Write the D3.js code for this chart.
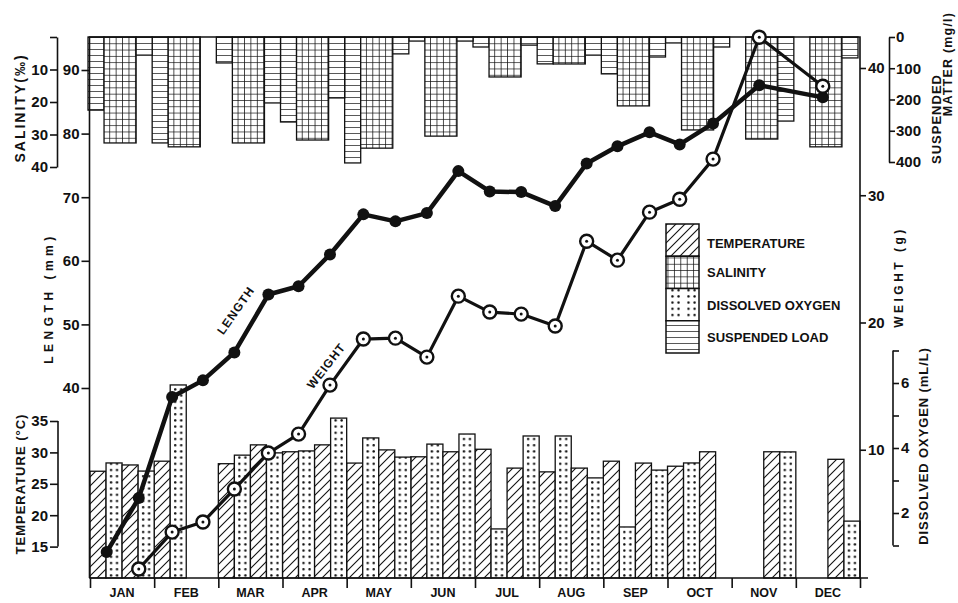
<!DOCTYPE html>
<html><head><meta charset="utf-8">
<script src="https://cdn.jsdelivr.net/npm/d3@7"></script>
<style>
body{margin:0;background:#fff}
svg{display:block}
text{font-family:"Liberation Sans",Arial,sans-serif;font-weight:bold;fill:#111}
</style>
</head><body>
<svg id="c" width="958" height="603"></svg>
<script>
// ---------- DATA ----------
const months = ["JAN","FEB","MAR","APR","MAY","JUN","JUL","AUG","SEP","OCT","NOV","DEC"];
// two sampling dates per month: first and second sample
const temp1 = [27.0, 28.6, 28.2, 30.1, 28.3, 29.3, 30.5, 26.9, 28.6, 27.8, null, null];
const oxy1  = [3.54, 5.94, 3.78, 3.91, 4.31, 4.12, 1.51, 4.37, 1.57, 3.54, null, null];
const temp2 = [28.0, null, 31.2, 31.2, 30.4, 30.1, 27.5, 27.5, 28.3, 30.1, 30.1, 28.9];
const oxy2  = [3.29, null, 3.85, 4.92, 3.72, 4.43, 4.37, 3.08, 3.32, null, 3.88, 1.75];
const susp1 = [234, 339, 83, 272, 403, 13, 32, 86, 118, 19, null, null];
const salinity = [32.6, 33.8, 32.6, 31.7, 34.2, 30.5, 12.3, 8.3, 21.2, 28.6, 31.4, 33.8];
const susp2 = [58, null, 211, 195, 54, 13, 26, 58, 64, 32, 269, 67];
// growth samples (time in months from 1 Jan)
const sampleTime = [0.26,0.76,1.28,1.76,2.25,2.78,3.25,3.74,4.26,4.76,5.25,5.74,6.23,6.72,7.25,7.74,8.22,8.72,9.19,9.71,10.43,11.42];
const lengthMM = [14.2,22.7,38.6,41.2,45.6,54.7,56.0,61.0,67.3,66.2,67.5,74.1,70.9,70.8,68.6,75.3,78.0,80.2,78.3,81.6,87.6,85.7];
const weightG  = [null,0.63,3.53,4.32,6.91,9.74,11.23,15.08,18.70,18.77,17.28,22.07,20.82,20.66,19.72,26.39,24.90,28.67,29.69,32.84,42.42,38.57];
// tick labels
const lengthTicks = [40,50,60,70,80,90];
const weightTicks = [10,20,30,40];
const tempTicks = [15,20,25,30,35];
const salTicks = [0,10,20,30,40];
const suspTicks = [0,100,200,300,400];
const oxyTicks = [1,2,3,4,5,6,7];
const oxyLabelled = [2,4,6];
const legendItems = [["TEMPERATURE","hatch"],["SALINITY","grid"],["DISSOLVED OXYGEN","dots"],["SUSPENDED LOAD","hlines"]];

// ---------- LAYOUT ----------
const L=89.5, R=860, T=37, B=578;
const svg = d3.select("#c");
svg.append("rect").attr("width",958).attr("height",603).attr("fill","#fff");

const x = d3.scaleLinear().domain([0,12]).range([90,860]);
const slotW = (x(1)-x(0))/4;
const yLen = d3.scaleLinear().domain([40,90]).range([388,70]);
const yW = d3.scaleLinear().domain([0,40]).range([577,68]);
const yT = d3.scaleLinear().domain([10,35]).range([578,421]);
const yO = d3.scaleLinear().domain([0,7]).range([578,350.5]);
const ySal = d3.scaleLinear().domain([0,40]).range([37,167]);
const ySus = d3.scaleLinear().domain([0,400]).range([37,162]);

const ink = "#111";
// ---------- PATTERNS ----------
const defs = svg.append("defs");
const ph = defs.append("pattern").attr("id","hatch").attr("patternUnits","userSpaceOnUse")
  .attr("width",9).attr("height",9);
ph.append("rect").attr("width",9).attr("height",9).attr("fill","#fff");
ph.append("path").attr("d","M-1,1 L1,-1 M0,9 L9,0 M8,10 L10,8").attr("stroke",ink).attr("stroke-width",1.1);

const pd = defs.append("pattern").attr("id","dots").attr("patternUnits","userSpaceOnUse")
  .attr("x",x(0)).attr("y",2).attr("width",slotW).attr("height",6.2);
pd.append("rect").attr("width",slotW).attr("height",6.2).attr("fill","#fff");
pd.append("circle").attr("cx",5).attr("cy",3).attr("r",1.2).attr("fill",ink);
pd.append("circle").attr("cx",11).attr("cy",3).attr("r",1.2).attr("fill",ink);

const gs = slotW*2/5;
const pg = defs.append("pattern").attr("id","grid").attr("patternUnits","userSpaceOnUse")
  .attr("x",x(0)).attr("y",T).attr("width",gs).attr("height",6.3);
pg.append("rect").attr("width",gs).attr("height",6.3).attr("fill","#fff");
pg.append("path").attr("d",`M0,0 V6.3 M0,0 H${gs}`).attr("stroke",ink).attr("stroke-width",1.5);

const pl = defs.append("pattern").attr("id","hlines").attr("patternUnits","userSpaceOnUse")
  .attr("x",0).attr("y",T).attr("width",10).attr("height",6);
pl.append("rect").attr("width",10).attr("height",6).attr("fill","#fff");
pl.append("path").attr("d","M0,0 H10").attr("stroke",ink).attr("stroke-width",1.4);

// ---------- BARS ----------
const bars = svg.append("g").attr("stroke",ink).attr("stroke-width",1.3);
function bottomBars(vals, slot, scale, pat){
  bars.selectAll(null).data(vals.map((v,i)=>({v,i})).filter(d=>d.v!=null)).join("rect")
    .attr("x",d=>x(d.i)+slot*slotW).attr("width",slotW)
    .attr("y",d=>scale(d.v)).attr("height",d=>B-scale(d.v))
    .attr("fill",`url(#${pat})`);
}
bottomBars(temp1,0,yT,"hatch");
bottomBars(oxy1,1,yO,"dots");
bottomBars(temp2,2,yT,"hatch");
bottomBars(oxy2,3,yO,"dots");
function topBars(vals, slot, w, scale, pat){
  bars.selectAll(null).data(vals.map((v,i)=>({v,i})).filter(d=>d.v!=null)).join("rect")
    .attr("x",d=>x(d.i)+slot*slotW-2).attr("width",w*slotW)
    .attr("y",T).attr("height",d=>scale(d.v)-T)
    .attr("fill",`url(#${pat})`);
}
topBars(susp1,0,1,ySus,"hlines");
topBars(salinity,1,2,ySal,"grid");
topBars(susp2,3,1,ySus,"hlines");

// ---------- FRAME & AXES ----------
const frame = svg.append("g").attr("stroke",ink).attr("stroke-width",1.6).attr("fill","none");
frame.append("path").attr("d",`M${L},${B} V${T} H${R} V${B}`);
frame.append("path").attr("d",`M${L},${B} H868`);

function styleAxis(g, fs){
  g.selectAll("line").attr("stroke",ink).attr("stroke-width",1.6);
  g.selectAll(".domain").attr("stroke",ink).attr("stroke-width",1.6);
  g.selectAll("text").attr("font-size",fs).attr("font-family",null).attr("fill",ink);
}
// month axis
const gx = svg.append("g").attr("transform",`translate(0,${B})`)
  .call(d3.axisBottom(x).tickValues(d3.range(13)).tickSize(10).tickFormat(""));
gx.select(".domain").remove(); styleAxis(gx,12);
svg.append("g").selectAll("text").data(months).join("text")
  .attr("x",(d,i)=>x(i+0.5)).attr("y",597).attr("text-anchor","middle")
  .attr("font-size",12.5).text(d=>d);

// length axis
const gl = svg.append("g").attr("transform",`translate(${L},0)`)
  .call(d3.axisLeft(yLen).tickValues(lengthTicks).tickSize(8).tickPadding(2).tickFormat(d3.format("d")));
gl.select(".domain").remove(); styleAxis(gl,15);
// weight axis
const gw = svg.append("g").attr("transform",`translate(${R},0)`)
  .call(d3.axisRight(yW).tickValues(weightTicks).tickSize(6).tickPadding(2).tickFormat(d3.format("d")));
gw.select(".domain").remove(); styleAxis(gw,15);
// temperature axis
const gt = svg.append("g").attr("transform","translate(58,0)")
  .call(d3.axisLeft(yT).tickValues(tempTicks).tickSize(8).tickPadding(2).tickSizeOuter(0));
gt.select(".domain").remove(); styleAxis(gt,15);
gt.append("line").attr("y1",yT(15)).attr("y2",yT(35)).attr("stroke",ink).attr("stroke-width",1.6);
// salinity axis
const gsAx = svg.append("g").attr("transform","translate(57,0)")
  .call(d3.axisLeft(ySal).tickValues(salTicks).tickSize(7).tickPadding(2).tickSizeOuter(0).tickFormat(d=>d===0?"":d));
styleAxis(gsAx,15);
// suspended matter axis
const gsu = svg.append("g").attr("transform","translate(889,0)")
  .call(d3.axisRight(ySus).tickValues(suspTicks).tickSize(6).tickPadding(1).tickSizeOuter(0));
styleAxis(gsu,15);
// dissolved oxygen axis
const go = svg.append("g").attr("transform","translate(893,0)")
  .call(d3.axisRight(yO).tickValues(oxyTicks).tickSize(6).tickPadding(2).tickFormat(d=>oxyLabelled.includes(d)?d:""));
go.select(".domain").remove(); styleAxis(go,15);
go.append("line").attr("y1",yO(1)).attr("y2",yO(7)).attr("stroke",ink).attr("stroke-width",1.6);

// ---------- AXIS TITLES ----------
function vtext(tx,ty,str,fs,ls){
  svg.append("text").attr("transform",`translate(${tx},${ty}) rotate(-90)`)
    .attr("text-anchor","middle").attr("font-size",fs).attr("letter-spacing",ls).text(str);
}
vtext(25,108,"SALINITY(‰)",14,2);
vtext(25,484,"TEMPERATURE (°C)",13,1);
vtext(53,298,"LENGTH (mm)",12,4.5);
vtext(903,277,"WEIGHT (g)",12,3.5);
vtext(941,119,"SUSPENDED",13,1);
vtext(952,64,"MATTER (mg/l)",12.5,1.2);
vtext(928,446,"DISSOLVED OXYGEN (mL/L)",13,0.9);

// ---------- LINES ----------
const lenData = sampleTime.map((t,i)=>({t,v:lengthMM[i]}));
const wData = sampleTime.map((t,i)=>({t,v:weightG[i]})).filter(d=>d.v!=null);
svg.append("path").datum(lenData).attr("fill","none").attr("stroke",ink).attr("stroke-width",4.5)
  .attr("stroke-linejoin","round")
  .attr("d",d3.line().x(d=>x(d.t)).y(d=>yLen(d.v)));
svg.append("path").datum(wData).attr("fill","none").attr("stroke",ink).attr("stroke-width",3.2)
  .attr("stroke-linejoin","round")
  .attr("d",d3.line().x(d=>x(d.t)).y(d=>yW(d.v)));
svg.append("g").selectAll("circle").data(lenData).join("circle")
  .attr("cx",d=>x(d.t)).attr("cy",d=>yLen(d.v)).attr("r",6).attr("fill",ink);
const wp = svg.append("g").selectAll("g").data(wData).join("g")
  .attr("transform",d=>`translate(${x(d.t)},${yW(d.v)})`);
wp.append("circle").attr("r",6.5).attr("fill","#fff").attr("stroke",ink).attr("stroke-width",2.4);
wp.append("circle").attr("r",1.5).attr("fill",ink);

// line labels
svg.append("text").attr("transform",`translate(${x(2.27)},${yLen(52.2)}) rotate(-55)`)
  .attr("text-anchor","middle").attr("dy","0.35em").attr("font-size",12).attr("letter-spacing",1).text("LENGTH");
svg.append("text").attr("transform",`translate(${x(3.68)},${yW(16.6)}) rotate(-52)`)
  .attr("text-anchor","middle").attr("dy","0.35em").attr("font-size",12).attr("letter-spacing",1).text("WEIGHT");

// ---------- LEGEND ----------
const lg = svg.append("g");
const lx=666, ly=224, lw=33, lh=32.25;
lg.selectAll("rect").data(legendItems).join("rect")
  .attr("x",lx).attr("y",(d,i)=>ly+i*lh).attr("width",lw).attr("height",lh)
  .attr("fill",d=>`url(#${d[1]})`).attr("stroke",ink).attr("stroke-width",1.5);
lg.selectAll("text").data(legendItems).join("text")
  .attr("x",707).attr("y",(d,i)=>ly+i*lh+lh/2+5+(i===0?3:0))
  .attr("font-size",13).text(d=>d[0]);
</script>
</body></html>
